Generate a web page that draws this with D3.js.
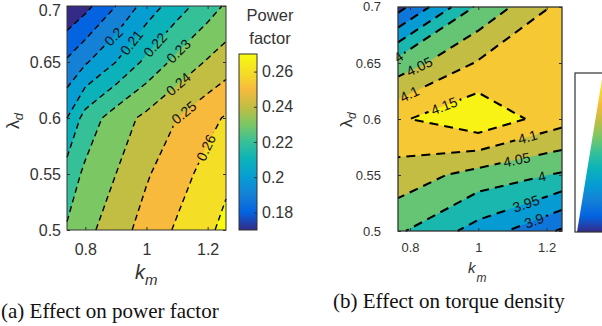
<!DOCTYPE html>
<html>
<head>
<meta charset="utf-8">
<script src="https://cdn.jsdelivr.net/npm/d3@7"></script>
<style>
  body { margin: 0; background: #fff; }
  text { font-family: "Liberation Sans", Arial, sans-serif; }
  text.caption { font-family: "Liberation Serif", "Times New Roman", serif; }
</style>
</head>
<body>
<svg id="fig" width="602" height="326"></svg>
<script>
// ---- data ----
// (a) power factor, rows = lambda_d, columns = k_m
var pfKm = [0.74, 0.8, 0.9, 1.0, 1.1, 1.2, 1.26];
var pfLd = [0.5, 0.55, 0.6, 0.65, 0.7];
var pfVals = [
  [0.231, 0.237, 0.2457, 0.2538, 0.2613, 0.2683, 0.2725],
  [0.2243, 0.232, 0.240, 0.249, 0.256, 0.2634, 0.268],
  [0.210, 0.224, 0.235, 0.2425, 0.250, 0.257, 0.261],
  [0.1915, 0.1988, 0.21, 0.2225, 0.233, 0.241, 0.245],
  [0.171, 0.177, 0.190, 0.2043, 0.2155, 0.2255, 0.2313]
];
var pfLevels = [0.18, 0.19, 0.2, 0.21, 0.22, 0.23, 0.24, 0.25, 0.26, 0.27];
// label hints: [level, k_m, lambda_d]
var pfLabels = [[0.2, 0.887, 0.674], [0.21, 0.953, 0.667], [0.22, 1.021, 0.667],
  [0.23, 1.10, 0.661], [0.24, 1.093, 0.634], [0.25, 1.116, 0.607], [0.26, 1.191, 0.574]];
var pfTicksX = [0.8, 1, 1.2];
var pfTicksY = [0.5, 0.55, 0.6, 0.65, 0.7];
var pfCbTicks = [0.18, 0.2, 0.22, 0.24, 0.26];

// (b) torque density
var tdKm = [0.765, 1.0, 1.245];
var tdLd = [0.5, 0.55, 0.6, 0.65, 0.7];
var tdVals = [
  [4.0075, 3.93, 3.843],
  [4.08, 4.03, 3.994],
  [4.143, 4.19, 4.119],
  [4.02, 4.105, 4.13],
  [3.83, 4.01, 4.115]
];
var tdLevels = [3.8, 3.85, 3.9, 3.95, 4.0, 4.05, 4.1, 4.15];
var tdLabels = [[4.0, 0.78, 0.649], [4.05, 0.829, 0.646], [4.1, 0.791, 0.627], [4.15, 0.897, 0.614],
  [4.1, 1.143, 0.585], [4.05, 1.113, 0.563], [4.0, 1.18, 0.556], [3.95, 1.128, 0.535], [3.9, 1.151, 0.519]];
var tdTicksX = [0.8, 1, 1.2];
var tdTicksY = [0.5, 0.55, 0.6, 0.65, 0.7];

// ---- setup ----
var svg = d3.select('#fig');
var defs = svg.append('defs');
var ink = '#333';

// parula, sampled every 0.1
var parulaStops = ['#352a87', '#0363e1', '#1481d6', '#069dd3', '#0bb2b9', '#36c098',
  '#7bc764', '#c2bd43', '#f7ba3c', '#f4df26', '#f9fb0e'];
var parula = d3.scaleLinear()
  .domain(parulaStops.map(function (c, i) { return i / (parulaStops.length - 1); }))
  .range(parulaStops)
  .clamp(true);

// gradient used by both colorbars
var grad = defs.append('linearGradient').attr('id', 'parula')
  .attr('x1', 0).attr('y1', 1).attr('x2', 0).attr('y2', 0);
d3.range(0, 1.0001, 0.05).forEach(function (t) {
  grad.append('stop').attr('offset', t).attr('stop-color', parula(t));
});

function splitRing(pts, nx, ny) {
  var e = 1e-9;
  function border(a, b) {
    return (a.i < e && b.i < e) || (a.i > nx - 1 - e && b.i > nx - 1 - e) ||
      (a.j < e && b.j < e) || (a.j > ny - 1 - e && b.j > ny - 1 - e);
  }
  var out = [], cur = [], firstB = null, lastB = null;
  for (var k = 0; k < pts.length - 1; k++) {
    var a = pts[k], b = pts[k + 1], bd = border(a, b);
    if (k === 0) firstB = bd;
    lastB = bd;
    if (bd) { if (cur.length > 1) out.push(cur); cur = []; }
    else { if (!cur.length) cur.push(a); cur.push(b); }
  }
  if (cur.length > 1) out.push(cur);
  if (out.length > 1 && !firstB && !lastB) {
    var last = out.pop();
    out[0] = last.concat(out[0].slice(1));
  }
  return out;
}

function contourPlot(o) {
  var nx = o.kms.length, ny = o.lds.length;
  var flat = [].concat.apply([], o.vals);
  var cs = d3.contours().size([nx, ny]).thresholds(o.levels)(flat);
  var iKm = d3.scaleLinear().domain(d3.range(nx)).range(o.kms);
  var iLd = d3.scaleLinear().domain(d3.range(ny)).range(o.lds);
  function mapPt(p) {
    var i = Math.max(0, Math.min(nx - 1, p[0] - 0.5));
    var j = Math.max(0, Math.min(ny - 1, p[1] - 0.5));
    return { i: i, j: j, px: o.x(iKm(i)), py: o.y(iLd(j)) };
  }
  function col(t) { return parula((t - o.cmin) / (o.cmax - o.cmin)); }

  var g = svg.append('g');
  // lowest band
  g.append('rect')
    .attr('x', o.x(o.kms[0])).attr('y', o.y(o.lds[ny - 1]))
    .attr('width', o.x(o.kms[nx - 1]) - o.x(o.kms[0]))
    .attr('height', o.y(o.lds[0]) - o.y(o.lds[ny - 1]))
    .attr('fill', parula(0));

  var lines = [];
  cs.forEach(function (c) {
    var d = '';
    c.coordinates.forEach(function (poly) {
      poly.forEach(function (ring) {
        if (ring.length && (ring[0][0] !== ring[ring.length - 1][0] || ring[0][1] !== ring[ring.length - 1][1])) {
          ring = ring.concat([ring[0]]);
        }
        var pts = ring.map(mapPt);
        d += 'M' + pts.map(function (q) { return q.px.toFixed(2) + ',' + q.py.toFixed(2); }).join('L') + 'Z';
        splitRing(pts, nx, ny).forEach(function (l) { lines.push({ value: c.value, pts: l }); });
      });
    });
    if (d) g.append('path').attr('d', d).attr('fill', col(c.value)).attr('fill-rule', 'evenodd');
  });

  // label gaps are cut out of the lines with a mask
  var mask = defs.append('mask').attr('id', 'mask-' + o.id)
    .attr('maskUnits', 'userSpaceOnUse').attr('x', 0).attr('y', 0).attr('width', 602).attr('height', 326);
  mask.append('rect').attr('width', 602).attr('height', 326).attr('fill', '#fff');

  var lineG = g.append('g').attr('mask', 'url(#mask-' + o.id + ')');
  lines.forEach(function (l) {
    lineG.append('path')
      .attr('d', 'M' + l.pts.map(function (q) { return q.px.toFixed(2) + ',' + q.py.toFixed(2); }).join('L'))
      .attr('fill', 'none').attr('stroke', '#000')
      .attr('stroke-width', o.lw).attr('stroke-dasharray', o.dash);
  });

  var labG = g.append('g').attr('font-size', o.fs + 'px').attr('fill', '#111');
  o.labels.forEach(function (lb) {
    var tx = o.x(lb[1]), ty = o.y(lb[2]), best = null;
    lines.forEach(function (l) {
      if (Math.abs(l.value - lb[0]) > 1e-9) return;
      for (var k = 0; k < l.pts.length - 1; k++) {
        var a = l.pts[k], b = l.pts[k + 1], dx = b.px - a.px, dy = b.py - a.py, len2 = dx * dx + dy * dy;
        if (!len2) continue;
        var t = Math.max(0, Math.min(1, ((tx - a.px) * dx + (ty - a.py) * dy) / len2));
        var qx = a.px + t * dx, qy = a.py + t * dy, dd = (qx - tx) * (qx - tx) + (qy - ty) * (qy - ty);
        if (!best || dd < best.d) best = { d: dd, x: qx, y: qy, ang: Math.atan2(dy, dx) * 180 / Math.PI };
      }
    });
    if (!best) return;
    var ang = best.ang;
    if (ang > 90) ang -= 180;
    if (ang < -90) ang += 180;
    var tr = 'translate(' + best.x.toFixed(2) + ',' + best.y.toFixed(2) + ') rotate(' + ang.toFixed(1) + ')';
    var txt = labG.append('text').attr('transform', tr)
      .attr('text-anchor', 'middle').attr('dy', '0.36em')
      .text(String(+lb[0].toFixed(3)));
    var w = txt.node().getComputedTextLength();
    mask.append('rect').attr('transform', tr)
      .attr('x', -w / 2 - 3).attr('y', -o.fs * 0.5).attr('width', w + 6).attr('height', o.fs)
      .attr('fill', '#000');
  });
  return g;
}

function frame(o) {
  var x0 = o.x.range()[0], x1 = o.x.range()[1], y0 = o.y.range()[1], y1 = o.y.range()[0];
  var left = svg.append('g').attr('transform', 'translate(' + x0 + ',0)')
    .call(d3.axisLeft(o.y).tickValues(o.ty).tickSize(-3).tickPadding(o.padL).tickFormat(String));
  var axes = [
    svg.append('g').attr('transform', 'translate(0,' + y1 + ')')
      .call(d3.axisBottom(o.x).tickValues(o.tx).tickSize(-3).tickPadding(o.padB).tickFormat(String)),
    left,
    svg.append('g').attr('transform', 'translate(0,' + y0 + ')')
      .call(d3.axisTop(o.x).tickValues(o.tx).tickSize(-3).tickFormat('')),
    svg.append('g').attr('transform', 'translate(' + x1 + ',0)')
      .call(d3.axisRight(o.y).tickValues(o.ty).tickSize(-3).tickFormat(''))
  ];
  axes.forEach(function (a) {
    a.attr('font-family', null).attr('font-size', o.fs + 'px');
    a.select('.domain').remove();
    a.selectAll('line').attr('stroke', ink);
    a.selectAll('text').attr('fill', ink);
  });
  // the top label sits a little lower than its tick, as in the figure
  left.selectAll('.tick text').filter(function (d) { return d === o.ty[o.ty.length - 1]; })
    .attr('y', o.topShift);
  svg.append('rect').attr('x', x0).attr('y', y0).attr('width', x1 - x0).attr('height', y1 - y0)
    .attr('fill', 'none').attr('stroke', ink).attr('stroke-width', o.bw);
}

// ---- (a) power factor ----
var xA = d3.scaleLinear().domain([0.74, 1.26]).range([67, 226]);
var yA = d3.scaleLinear().domain([0.5, 0.7]).range([230, 6]);
contourPlot({ id: 'a', kms: pfKm, lds: pfLd, vals: pfVals, levels: pfLevels, cmin: 0.17, cmax: 0.27,
  x: xA, y: yA, labels: pfLabels, lw: 1.4, dash: '6,4', fs: 14 });
frame({ x: xA, y: yA, tx: pfTicksX, ty: pfTicksY, padB: 13.5, padL: 6, fs: 16, bw: 1, topShift: 4 });

// colorbar (a)
var cbY = d3.scaleLinear().domain([0.17, 0.27]).range([230, 54]);
svg.append('rect').attr('x', 239).attr('y', 54).attr('width', 18).attr('height', 176)
  .attr('fill', 'url(#parula)');
var cbAx = svg.append('g').attr('transform', 'translate(257,0)')
  .call(d3.axisRight(cbY).tickValues(pfCbTicks).tickSize(-3).tickPadding(5).tickFormat(String));
cbAx.attr('font-family', null).attr('font-size', '16px');
cbAx.select('.domain').remove();
cbAx.selectAll('line').attr('stroke', ink);
cbAx.selectAll('text').attr('fill', ink);
svg.append('rect').attr('x', 239).attr('y', 54).attr('width', 18).attr('height', 176)
  .attr('fill', 'none').attr('stroke', ink).attr('stroke-width', 1);
svg.append('text').attr('x', 270).attr('y', 21).attr('text-anchor', 'middle')
  .attr('font-size', '16.5px').attr('fill', ink).text('Power');
svg.append('text').attr('x', 270).attr('y', 44).attr('text-anchor', 'middle')
  .attr('font-size', '16.5px').attr('fill', ink).text('factor');

// axis titles (a)
var xlA = svg.append('text').attr('x', 135).attr('y', 279).attr('fill', ink);
xlA.append('tspan').attr('font-style', 'italic').attr('font-size', '20px').text('k');
xlA.append('tspan').attr('font-style', 'italic').attr('font-size', '15px').attr('dy', 6).text('m');
var ylA = svg.append('text').attr('transform', 'translate(19,121) rotate(-90)')
  .attr('text-anchor', 'middle').attr('fill', ink);
ylA.append('tspan').attr('font-size', '18px').text('λ');
ylA.append('tspan').attr('font-style', 'italic').attr('font-size', '13px').attr('dy', 4).text('d');

// ---- (b) torque density ----
var xB = d3.scaleLinear().domain([0.765, 1.245]).range([398, 562]);
var yB = d3.scaleLinear().domain([0.5, 0.7]).range([231, 7]);
contourPlot({ id: 'b', kms: tdKm, lds: tdLd, vals: tdVals, levels: tdLevels, cmin: 3.79, cmax: 4.16,
  x: xB, y: yB, labels: tdLabels, lw: 2.1, dash: '9,6', fs: 14 });
frame({ x: xB, y: yB, tx: tdTicksX, ty: tdTicksY, padB: 11.8, padL: 17, fs: 13, bw: 1.3, topShift: -1 });

// colorbar (b), only a sliver of it is in the frame
defs.append('clipPath').attr('id', 'cbclip').append('polygon')
  .attr('points', '577,232 603,73 700,73 700,232');
svg.append('rect').attr('x', 575).attr('y', 73).attr('width', 60).attr('height', 159).attr('fill', '#fff');
svg.append('rect').attr('x', 575).attr('y', 73).attr('width', 60).attr('height', 159)
  .attr('fill', 'url(#parula)').attr('clip-path', 'url(#cbclip)');
svg.append('rect').attr('x', 575).attr('y', 73).attr('width', 60).attr('height', 159)
  .attr('fill', 'none').attr('stroke', ink).attr('stroke-width', 1.2);

// axis titles (b)
var xlB = svg.append('text').attr('x', 468).attr('y', 273).attr('fill', ink);
xlB.append('tspan').attr('font-style', 'italic').attr('font-size', '15px').text('k');
xlB.append('tspan').attr('font-style', 'italic').attr('font-size', '12px').attr('dx', 1).attr('dy', 9).text('m');
var ylB = svg.append('text').attr('transform', 'translate(352,120) rotate(-90)')
  .attr('text-anchor', 'middle').attr('fill', ink);
ylB.append('tspan').attr('font-size', '17px').text('λ');
ylB.append('tspan').attr('font-style', 'italic').attr('font-size', '12px').attr('dy', 4).text('d');

// ---- captions ----
svg.append('text').attr('class', 'caption').attr('x', 1).attr('y', 318)
  .attr('font-size', '21px').attr('fill', '#111').text('(a) Effect on power factor');
svg.append('text').attr('class', 'caption').attr('x', 333).attr('y', 308)
  .attr('font-size', '21px').attr('fill', '#111').text('(b) Effect on torque density');
</script>
</body>
</html>
